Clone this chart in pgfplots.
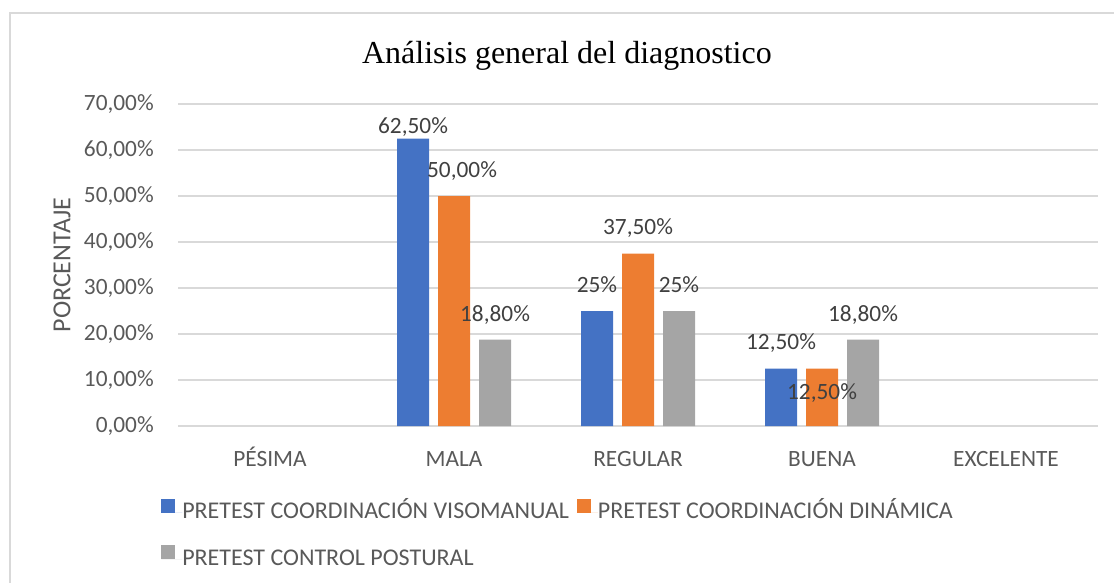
\documentclass[border=0pt]{standalone}
\usepackage{fontspec}
\setmainfont{Carlito}
\newfontfamily\titlefont{Liberation Serif}
\usepackage{pgfplots}
\usepackage{pgfplotstable}
\pgfplotsset{compat=1.18}
\definecolor{cblue}{HTML}{4472C4}
\definecolor{corange}{HTML}{ED7D31}
\definecolor{cgray}{HTML}{A5A5A5}
\definecolor{gridc}{HTML}{D9D9D9}
\definecolor{tickc}{HTML}{595959}
\definecolor{labc}{HTML}{404040}
\pgfplotsset{sq legend/.style={legend image code/.code={\fill[##1] (0pt,0.3pt) rectangle (10.5pt,10.8pt); \path (0pt,0pt) -- (15.75pt,0pt);}}}
\pgfplotstableread{
x y lab dx dy
1 62.5 62,50\% 0 8.9
2 25 25\% 0 19.5
3 12.5 12,50\% 0 19.1
}\blue
\pgfplotstableread{
x y lab dx dy
1 50 50,00\% 6 18.75
2 37.5 37,50\% 0 19.1
3 12.5 12,50\% 0 -18.4
}\orange
\pgfplotstableread{
x y lab dx dy
1 18.8 18,80\% 0 18.4
2 25 25\% 0 19.5
3 18.8 18,80\% 0 18.4
}\gray
\begin{document}
\begin{tikzpicture}
\useasboundingbox (0,0) rectangle (835.5pt,436.5pt);
\draw[gridc, line width=1pt] (7.5pt,-2pt) -- (7.5pt,426.75pt) -- (840pt,426.75pt);
\begin{axis}[
  at={(133.5pt,117pt)}, anchor=south west,
  scale only axis, width=690pt, height=241.5pt,
  ybar=6.75pt, bar width=24pt,
  xmin=-0.5, xmax=4.5, ymin=0, ymax=70,
  clip=false,
  axis line style={draw=none},
  major tick length=0pt,
  ymajorgrids, grid style={gridc, line width=0.9pt},
  ytick={0,10,...,70},
  yticklabels={{0,00\%},{10,00\%},{20,00\%},{30,00\%},{40,00\%},{50,00\%},{60,00\%},{70,00\%}},
  xtick={0,1,2,3,4},
  xticklabels={PÉSIMA,MALA,REGULAR,BUENA,EXCELENTE},
  tick label style={font=\fontsize{17.5}{21}\selectfont, text=tickc},
  yticklabel style={anchor=east, inner sep=0pt, xshift=-18pt},
  xticklabel style={anchor=base, inner sep=0pt, yshift=-30.4pt},
  ylabel={PORCENTAJE},
  ylabel style={at={(axis description cs:-0.1261,0.5)}, anchor=center, font=\fontsize{19.5}{23}\selectfont, text=tickc},
  title={Análisis general del diagnostico},
  title style={at={(axis description cs:0.4228,1.1025)}, anchor=base, font=\fontsize{24}{28}\selectfont\titlefont, text=black, inner sep=0pt},
  nodes near coords,
  point meta=explicit symbolic,
  visualization depends on={\thisrow{dx} \as \dx},
  visualization depends on={\thisrow{dy} \as \dy},
  every node near coord/.append style={anchor=center, xshift=\dx pt, yshift=\dy pt, font=\fontsize{17.5}{21}\selectfont, text=labc, inner sep=0pt},
  legend columns=2,
  legend cell align=left,
  legend style={at={(axis description cs:-0.01848,-0.2246)}, anchor=north west, draw=none, fill=none, inner sep=0pt,
    font=\fontsize{18}{21}\selectfont, text=tickc,
    nodes={inner sep=0pt, text height=12pt, text depth=4pt},
    row sep=16.25pt,
    /tikz/every even column/.append style={column sep=6pt}},
]
\addplot[fill=cblue, draw=none, sq legend] table[x=x, y=y, meta=lab] {\blue};
\addplot[fill=corange, draw=none, sq legend] table[x=x, y=y, meta=lab] {\orange};
\addplot[fill=cgray, draw=none, sq legend] table[x=x, y=y, meta=lab] {\gray};
\legend{PRETEST COORDINACIÓN VISOMANUAL, PRETEST COORDINACIÓN DINÁMICA, PRETEST CONTROL POSTURAL}
\end{axis}
\end{tikzpicture}
\end{document}
